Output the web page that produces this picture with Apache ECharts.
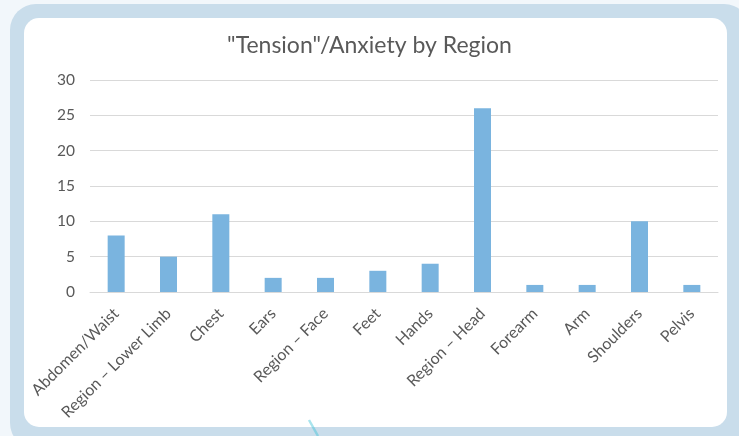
<!DOCTYPE html>
<html>
<head>
<meta charset="utf-8">
<script src="https://cdn.jsdelivr.net/npm/echarts@6/dist/echarts.min.js"></script>
<style>
  html, body { margin: 0; padding: 0; background: #f2f7fb; }
  #chart { width: 739px; height: 436px; }
</style>
</head>
<body>
<div id="chart"></div>
<script>
// Body regions and the number of tension/anxiety mentions for each
var regions = ['Abdomen/Waist', 'Region \u2013 Lower Limb', 'Chest', 'Ears', 'Region \u2013 Face',
               'Feet', 'Hands', 'Region \u2013 Head', 'Forearm', 'Arm', 'Shoulders', 'Pelvis'];
var counts = [8, 5, 11, 2, 2, 3, 4, 26, 1, 1, 10, 1];
var yTicks = [0, 5, 10, 15, 20, 25, 30];

var chart = echarts.init(document.getElementById('chart'), null, { renderer: 'canvas' });
var fontFamily = 'Lato, "Open Sans", sans-serif';
var textColor = '#595959';

chart.setOption({
  backgroundColor: '#f2f7fb',
  animation: false,
  graphic: [
    // rounded light-blue frame with a white card inside
    { type: 'rect', z: -10, silent: true,
      shape: { x: 10, y: 4, width: 740, height: 445, r: 26 },
      style: { fill: '#c9ddeb' } },
    { type: 'rect', z: -9, silent: true,
      shape: { x: 24, y: 18, width: 703, height: 409, r: 15 },
      style: { fill: '#ffffff' } },
    // small cyan stroke under the card
    { type: 'bezierCurve', z: -8, silent: true,
      shape: { x1: 309, y1: 420, cpx1: 313, cpy1: 427, x2: 318, y2: 436 },
      style: { stroke: 'rgba(64, 196, 214, 0.45)', lineWidth: 2.5, fill: 'none' } }
  ],
  title: {
    text: '"Tension"/Anxiety by Region',
    left: 'center',
    top: 29,
    textStyle: { fontFamily: fontFamily, fontSize: 23, fontWeight: 'normal', color: textColor }
  },
  grid: { left: 90, right: 21, top: 80, bottom: 144, containLabel: false },
  xAxis: {
    type: 'category',
    data: regions,
    axisLine: { lineStyle: { color: '#d9d9d9', width: 1 } },
    axisTick: { show: false },
    axisLabel: {
      rotate: 45,
      interval: 0,
      margin: 19,
      color: textColor,
      fontFamily: fontFamily,
      fontSize: 16
    }
  },
  yAxis: {
    type: 'value',
    min: yTicks[0],
    max: yTicks[yTicks.length - 1],
    interval: yTicks[1] - yTicks[0],
    axisLine: { show: false },
    axisTick: { show: false },
    splitLine: { lineStyle: { color: '#d9d9d9', width: 1 } },
    axisLabel: { color: textColor, fontFamily: fontFamily, fontSize: 15.5, margin: 15 }
  },
  series: [{
    type: 'bar',
    data: counts,
    barWidth: 17,
    itemStyle: { color: '#7ab4df' }
  }]
});
</script>
</body>
</html>
